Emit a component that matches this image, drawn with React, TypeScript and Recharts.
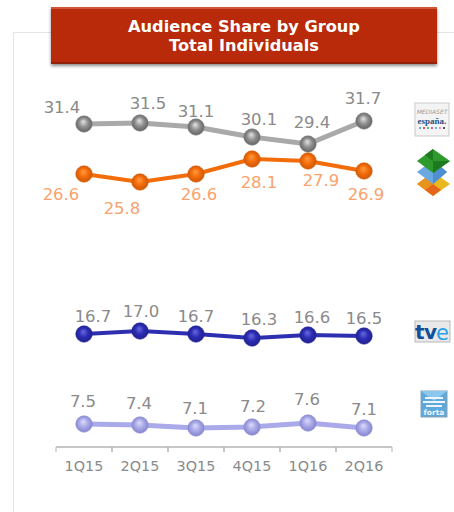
import { Line, LineChart, LabelList, XAxis, YAxis } from 'recharts';

const quarters = ['1Q15', '2Q15', '3Q15', '4Q15', '1Q16', '2Q16'];
const mediaset = [31.4, 31.5, 31.1, 30.1, 29.4, 31.7];
const atresmedia = [26.6, 25.8, 26.6, 28.1, 27.9, 26.9];
const tve = [16.7, 17.0, 16.7, 16.3, 16.6, 16.5];
const forta = [7.5, 7.4, 7.1, 7.2, 7.6, 7.1];

const rows = quarters.map((q, i) => ({
  q,
  mediaset: mediaset[i],
  atresmedia: atresmedia[i],
  tve: tve[i],
  forta: forta[i],
}));

// label nudges relative to each point, the original places them by hand
const grayNudge = [[-22, -16], [8, -19], [0, -15], [7, -17], [4, -21], [-1, -22]];
const orangeNudge = [[-23, 21], [-18, 27], [3, 21], [7, 24], [13, 20], [2, 24]];
const blueNudge = [[9, -17], [1, -19], [0, -17], [7, -18], [4, -17], [0, -17]];
const lavenderNudge = [[-1, -22], [-1, -21], [-1, -19], [1, -20], [-1, -23], [0, -18]];

const FONT = '"DejaVu Sans", Verdana, sans-serif';

function nudgedLabel(nudge: number[][], fill: string) {
  return (props: any) => {
    const { x, y, index, value } = props;
    const [dx, dy] = nudge[index];
    return (
      <text x={x + dx} y={y + dy + 5} textAnchor="middle" fontSize={16.5} fontFamily={FONT} fill={fill}>
        {Number(value).toFixed(1)}
      </text>
    );
  };
}

function QuarterTick(props: any) {
  const { x, y, payload } = props;
  return (
    <g>
      <line x1={x - 28} x2={x - 28} y1={447} y2={452} stroke="#b5b5b5" />
      <line x1={x + 28} x2={x + 28} y1={447} y2={452} stroke="#b5b5b5" />
      <text x={x} y={y + 16} textAnchor="middle" fontSize={14.4} fontFamily={FONT} fill="#8a8a8a">
        {payload.value}
      </text>
    </g>
  );
}

function Sphere({ id, light, mid, dark }: { id: string; light: string; mid: string; dark: string }) {
  return (
    <radialGradient id={id} cx="50%" cy="50%" r="55%" fx="45%" fy="35%">
      <stop offset="0%" stopColor={light} />
      <stop offset="50%" stopColor={mid} />
      <stop offset="100%" stopColor={dark} />
    </radialGradient>
  );
}

function Logos() {
  return (
    <svg width={454} height={512} style={{ position: 'absolute', left: 0, top: 0 }}>
      <rect x={415} y={103} width={34} height={33} fill="#f4f4f4" stroke="#c9c9c9" />
      <text x={432} y={114} textAnchor="middle" fontSize={6} fontStyle="italic" fontFamily={FONT} fill="#9a9a9a">
        MEDIASET
      </text>
      <text x={432} y={124} textAnchor="middle" fontSize={9} fontWeight="bold" fontFamily="'Liberation Serif', serif" fill="#2b4f86">
        españa.
      </text>
      {['#2aa0d8', '#d8232a', '#2aa84a', '#b0308c', '#30b0c0', '#e070a0', '#222'].map((c, i) => (
        <circle key={c} cx={420 + i * 4} cy={128} r={1} fill={c} />
      ))}

      {/* three stacked diamonds */}
      <polygon points="433,172 450,184 433,196 417,184" fill="#e8b81e" />
      <polygon points="417,184 433,172 433,184 425,190" fill="#e8931e" />
      <polygon points="425,190 433,184 441,190 433,196" fill="#e4661a" />
      <polygon points="433,160 447,172 433,184 417,172" fill="#6aa9e0" />
      <polygon points="433,160 447,172 433,184" fill="#4d8fd0" />
      <polygon points="433,149 450,161 433,173 417,161" fill="#2f9a2c" />
      <polygon points="433,149 433,161 425,155" fill="#1d7a20" />
      <polygon points="433,161 450,161 433,173" fill="#1d7a20" />

      <rect x={415} y={321} width={35} height={21} fill="#e9e9e9" stroke="#b9b9b9" />
      <text x={415} y={339} fontSize={20} fontWeight="bold" fontFamily={FONT} fill="#12509a" textLength={22}>
        tv
      </text>
      <text x={436} y={340} fontSize={21} fontFamily={FONT} fill="#2aa0e8">
        e
      </text>

      <rect x={421} y={391} width={26} height={26} fill="#5fa8dc" stroke="#8aa0b0" />
      <polygon points="421,391 447,391 434,401" fill="#8cc8ee" />
      <rect x={425} y={397} width={18} height={2} fill="#eef6fc" />
      <rect x={423} y={401} width={22} height={2} fill="#eef6fc" />
      <rect x={426} y={405} width={16} height={2} fill="#eef6fc" />
      <text x={434} y={415} textAnchor="middle" fontSize={7.5} fontWeight="bold" fontFamily={FONT} fill="#eef6fc">
        forta
      </text>
    </svg>
  );
}

export default function App() {
  return (
    <div style={{ position: 'absolute', left: 0, top: 0, width: 454, height: 512, background: '#fff', overflow: 'hidden' }}>
      <div style={{ position: 'absolute', left: 13, top: 32, width: 441, height: 480, borderLeft: '1px solid #e4e4e4', borderTop: '1px solid #e4e4e4' }} />
      <div
        style={{
          position: 'absolute',
          left: 51,
          top: 7,
          width: 386,
          height: 57,
          boxSizing: 'border-box',
          background: '#b82a0a',
          borderTop: '2px solid #d0563a',
          borderBottom: '2px solid #8f2208',
          boxShadow: '0 2px 3px rgba(0,0,0,0.45)',
          color: '#fff',
          fontFamily: FONT,
          fontWeight: 'bold',
          fontSize: 16.2,
          lineHeight: '19px',
          textAlign: 'center',
          paddingTop: 8,
        }}
      >
        Audience Share by Group
        <br />
        Total Individuals
      </div>

      <div style={{ position: 'absolute', left: 0, top: 0 }}>
        <LineChart width={454} height={512} data={rows} margin={{ top: 47, right: 62, bottom: 35, left: 56 }}>
          <defs>
            <Sphere id="ballGray" light="#e4e4e4" mid="#8f8f8f" dark="#5c5c5c" />
            <Sphere id="ballOrange" light="#ff9a40" mid="#f26c0a" dark="#c85304" />
            <Sphere id="ballBlue" light="#6a6ae0" mid="#2c2cb4" dark="#1e1e88" />
            <Sphere id="ballLavender" light="#dcdcfa" mid="#a8a8e8" dark="#7f7fc8" />
          </defs>
          <XAxis
            dataKey="q"
            padding={{ left: 28, right: 28 }}
            axisLine={{ stroke: '#b5b5b5', strokeWidth: 1.5 }}
            tickLine={false}
            tick={<QuarterTick />}
            interval={0}
          />
          <YAxis yAxisId="gray" hide domain={[-0.9, 39.1]} />
          <YAxis yAxisId="orange" hide domain={[-0.7, 39.3]} />
          <YAxis yAxisId="blue" hide domain={[5.4, 45.4]} />
          <YAxis yAxisId="lavender" hide domain={[5.2, 45.2]} />
          <Line
            yAxisId="gray"
            dataKey="mediaset"
            stroke="#a9a9a9"
            strokeWidth={5}
            dot={{ r: 8.3, fill: 'url(#ballGray)', stroke: '#8a8a8a', strokeWidth: 0.5 }}
            isAnimationActive={false}
          >
            <LabelList dataKey="mediaset" content={nudgedLabel(grayNudge, '#8a8a8a')} />
          </Line>
          <Line
            yAxisId="orange"
            dataKey="atresmedia"
            stroke="#f26c0a"
            strokeWidth={4}
            dot={{ r: 8.3, fill: 'url(#ballOrange)', stroke: '#d65f08', strokeWidth: 0.5 }}
            isAnimationActive={false}
          >
            <LabelList dataKey="atresmedia" content={nudgedLabel(orangeNudge, '#f9a26c')} />
          </Line>
          <Line
            yAxisId="blue"
            dataKey="tve"
            stroke="#2e2eb0"
            strokeWidth={4}
            dot={{ r: 8.3, fill: 'url(#ballBlue)', stroke: '#24249a', strokeWidth: 0.5 }}
            isAnimationActive={false}
          >
            <LabelList dataKey="tve" content={nudgedLabel(blueNudge, '#8a8a8a')} />
          </Line>
          <Line
            yAxisId="lavender"
            dataKey="forta"
            stroke="#aaaaea"
            strokeWidth={5}
            dot={{ r: 8.3, fill: 'url(#ballLavender)', stroke: '#8f8fd0', strokeWidth: 0.5 }}
            isAnimationActive={false}
          >
            <LabelList dataKey="forta" content={nudgedLabel(lavenderNudge, '#8a8a8a')} />
          </Line>
        </LineChart>
      </div>
      <Logos />
    </div>
  );
}
